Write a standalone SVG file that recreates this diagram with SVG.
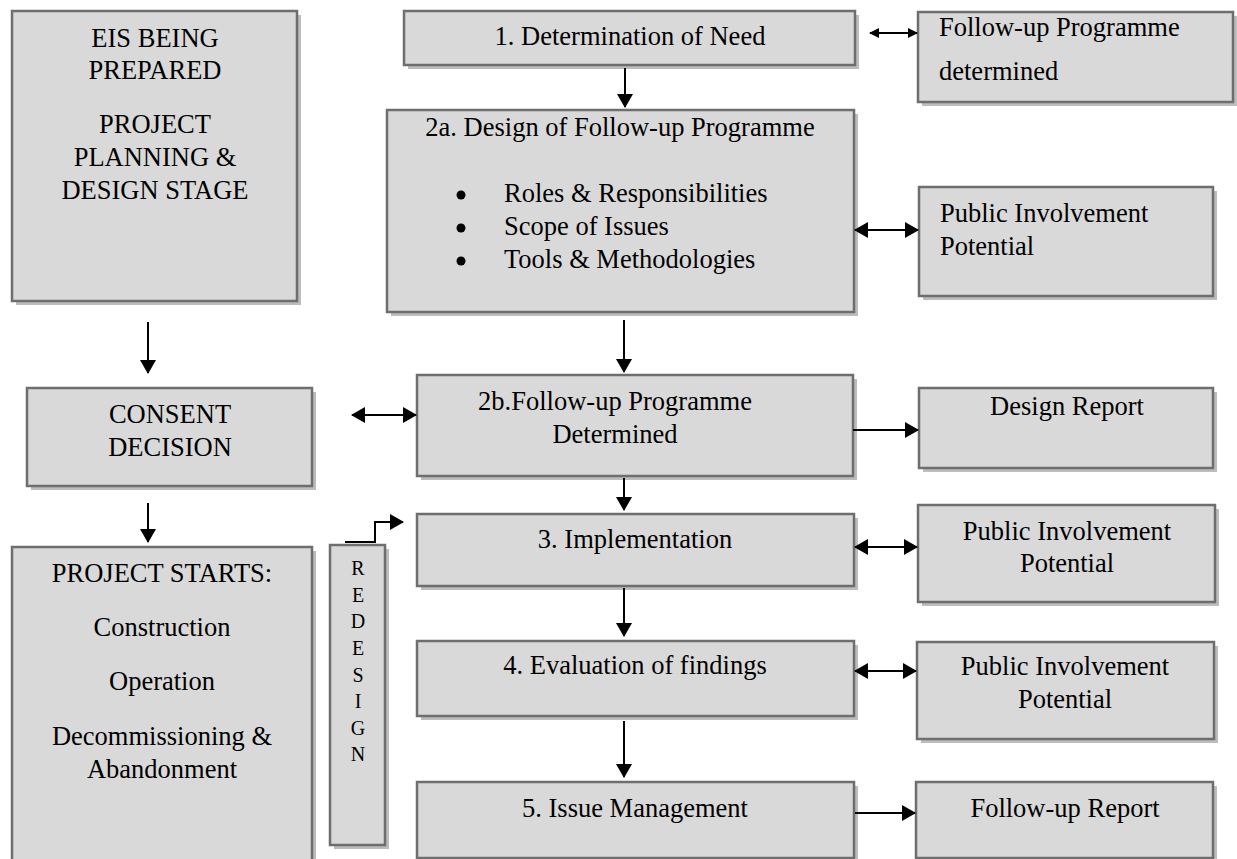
<svg xmlns="http://www.w3.org/2000/svg" width="1237" height="859" viewBox="0 0 1237 859">
  <style>
    .shadow { fill: #bdbdbd; }
    .box { fill: #d9d9d9; stroke: #6e6e6e; stroke-width: 2.5; }
    .t { font-family: "Liberation Serif", "Times New Roman", serif; font-size: 26.5px; fill: #000; }
    .c { text-anchor: middle; }
    .v { font-family: "Liberation Serif", "Times New Roman", serif; font-size: 20px; fill: #000; text-anchor: middle; }
    .ln { fill: none; stroke: #000; stroke-width: 2; }
  </style>
  <defs>
    <marker id="head" viewBox="0 0 14 16" refX="13" refY="8" markerWidth="14" markerHeight="16" markerUnits="userSpaceOnUse" orient="auto-start-reverse">
      <path d="M0,0 L14,8 L0,16 Z" fill="#000"/>
    </marker>
    <marker id="headS" viewBox="0 0 10 10" refX="9" refY="5" markerWidth="10" markerHeight="10" markerUnits="userSpaceOnUse" orient="auto-start-reverse">
      <path d="M0,0 L10,5 L0,10 Z" fill="#000"/>
    </marker>
  </defs>

  <rect width="1237" height="859" fill="#fff"/>

  <!-- left column: project stages -->
  <g id="eis-prepared">
    <rect class="shadow" x="16" y="15" width="285" height="290"/>
    <rect class="box" x="12" y="11" width="285" height="290"/>
    <text class="t c" x="155" y="47">EIS BEING</text>
    <text class="t c" x="155" y="79">PREPARED</text>
    <text class="t c" x="155" y="133">PROJECT</text>
    <text class="t c" x="155" y="166">PLANNING &amp;</text>
    <text class="t c" x="155" y="199">DESIGN STAGE</text>
  </g>

  <g id="consent-decision">
    <rect class="shadow" x="31" y="392" width="285" height="98"/>
    <rect class="box" x="27" y="388" width="285" height="98"/>
    <text class="t c" x="170" y="423">CONSENT</text>
    <text class="t c" x="170" y="456">DECISION</text>
  </g>

  <g id="project-starts">
    <rect class="shadow" x="16" y="551" width="300" height="330"/>
    <rect class="box" x="12" y="547" width="300" height="330"/>
    <text class="t c" x="162" y="582">PROJECT STARTS:</text>
    <text class="t c" x="162" y="636">Construction</text>
    <text class="t c" x="162" y="690">Operation</text>
    <text class="t c" x="162" y="745">Decommissioning &amp;</text>
    <text class="t c" x="162" y="778">Abandonment</text>
  </g>

  <g id="redesign">
    <rect class="shadow" x="334" y="549" width="55" height="300"/>
    <rect class="box" x="330" y="545" width="55" height="300"/>
    <text class="v" x="358" y="575">R</text>
    <text class="v" x="358" y="602">E</text>
    <text class="v" x="358" y="628">D</text>
    <text class="v" x="358" y="655">E</text>
    <text class="v" x="358" y="682">S</text>
    <text class="v" x="358" y="708">I</text>
    <text class="v" x="358" y="735">G</text>
    <text class="v" x="358" y="761">N</text>
  </g>

  <!-- centre column: follow-up steps -->
  <g id="step1">
    <rect class="shadow" x="408" y="15" width="451" height="54"/>
    <rect class="box" x="404" y="11" width="451" height="54"/>
    <text class="t c" x="630" y="45">1. Determination of Need</text>
  </g>

  <g id="step2a">
    <rect class="shadow" x="391" y="114" width="467" height="202"/>
    <rect class="box" x="387" y="110" width="467" height="202"/>
    <text class="t c" x="620" y="136">2a. Design of Follow-up Programme</text>
    <circle cx="461" cy="195" r="4.5" fill="#000"/>
    <circle cx="461" cy="228" r="4.5" fill="#000"/>
    <circle cx="461" cy="261" r="4.5" fill="#000"/>
    <text class="t" x="504" y="202">Roles &amp; Responsibilities</text>
    <text class="t" x="504" y="235">Scope of Issues</text>
    <text class="t" x="504" y="268">Tools &amp; Methodologies</text>
  </g>

  <g id="step2b">
    <rect class="shadow" x="421" y="379" width="436" height="101"/>
    <rect class="box" x="417" y="375" width="436" height="101"/>
    <text class="t c" x="615" y="410">2b.Follow-up Programme</text>
    <text class="t c" x="615" y="443">Determined</text>
  </g>

  <g id="step3">
    <rect class="shadow" x="421" y="518" width="437" height="72"/>
    <rect class="box" x="417" y="514" width="437" height="72"/>
    <text class="t c" x="635" y="548">3. Implementation</text>
  </g>

  <g id="step4">
    <rect class="shadow" x="421" y="645" width="437" height="75"/>
    <rect class="box" x="417" y="641" width="437" height="75"/>
    <text class="t c" x="635" y="674">4. Evaluation of findings</text>
  </g>

  <g id="step5">
    <rect class="shadow" x="421" y="786" width="437" height="76"/>
    <rect class="box" x="417" y="782" width="437" height="76"/>
    <text class="t c" x="635" y="817">5. Issue Management</text>
  </g>

  <!-- right column: outputs -->
  <g id="programme-determined">
    <rect class="shadow" x="922" y="16" width="315" height="90"/>
    <rect class="box" x="918" y="12" width="315" height="90"/>
    <text class="t" x="939" y="36">Follow-up Programme</text>
    <text class="t" x="939" y="80">determined</text>
  </g>

  <g id="public-involvement-1">
    <rect class="shadow" x="923" y="191" width="294" height="109"/>
    <rect class="box" x="919" y="187" width="294" height="109"/>
    <text class="t" x="940" y="222">Public Involvement</text>
    <text class="t" x="940" y="255">Potential</text>
  </g>

  <g id="design-report">
    <rect class="shadow" x="923" y="392" width="294" height="80"/>
    <rect class="box" x="919" y="388" width="294" height="80"/>
    <text class="t c" x="1067" y="415">Design Report</text>
  </g>

  <g id="public-involvement-2">
    <rect class="shadow" x="922" y="509" width="297" height="97"/>
    <rect class="box" x="918" y="505" width="297" height="97"/>
    <text class="t c" x="1067" y="540">Public Involvement</text>
    <text class="t c" x="1067" y="572">Potential</text>
  </g>

  <g id="public-involvement-3">
    <rect class="shadow" x="921" y="646" width="297" height="97"/>
    <rect class="box" x="917" y="642" width="297" height="97"/>
    <text class="t c" x="1065" y="675">Public Involvement</text>
    <text class="t c" x="1065" y="708">Potential</text>
  </g>

  <g id="follow-up-report">
    <rect class="shadow" x="920" y="786" width="297" height="76"/>
    <rect class="box" x="916" y="782" width="297" height="76"/>
    <text class="t c" x="1065" y="817">Follow-up Report</text>
  </g>

  <!-- connectors -->
  <g id="connectors">
    <line class="ln" x1="148" y1="322" x2="148" y2="373" marker-end="url(#head)"/>
    <line class="ln" x1="148" y1="503" x2="148" y2="542" marker-end="url(#head)"/>
    <line class="ln" x1="625" y1="68" x2="625" y2="107" marker-end="url(#head)"/>
    <line class="ln" x1="624" y1="320" x2="624" y2="372" marker-end="url(#head)"/>
    <line class="ln" x1="624" y1="478" x2="624" y2="510" marker-end="url(#head)"/>
    <line class="ln" x1="624" y1="588" x2="624" y2="636" marker-end="url(#head)"/>
    <line class="ln" x1="624" y1="721" x2="624" y2="777" marker-end="url(#head)"/>
    <line class="ln" x1="870" y1="33" x2="917" y2="33" marker-start="url(#headS)" marker-end="url(#headS)"/>
    <line class="ln" x1="855" y1="230" x2="918" y2="230" marker-start="url(#head)" marker-end="url(#head)"/>
    <line class="ln" x1="352" y1="415" x2="416" y2="415" marker-start="url(#head)" marker-end="url(#head)"/>
    <line class="ln" x1="853" y1="430" x2="918" y2="430" marker-end="url(#head)"/>
    <line class="ln" x1="855" y1="547" x2="917" y2="547" marker-start="url(#head)" marker-end="url(#head)"/>
    <line class="ln" x1="855" y1="671" x2="916" y2="671" marker-start="url(#head)" marker-end="url(#head)"/>
    <line class="ln" x1="855" y1="813" x2="915" y2="813" marker-end="url(#head)"/>
    <path class="ln" d="M345,542 H375 V522 H403" marker-end="url(#head)"/>
  </g>
</svg>
